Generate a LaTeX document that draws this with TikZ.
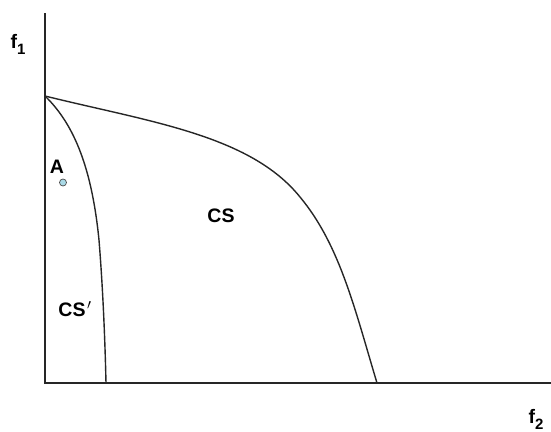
\documentclass[tikz,border=0pt]{standalone}
\usepackage{fontspec}
\setmainfont{Liberation Sans}
\definecolor{ptblue}{HTML}{A9D9E6}
\begin{document}
\begin{tikzpicture}[x=1pt,y=-1pt,
  lbl/.style={font=\bfseries\fontsize{19.5}{22}\selectfont, inner sep=0pt},
  curve/.style={line width=1.4pt, black!85},
  axis/.style={line width=1.4pt, black!85}]
\useasboundingbox (0,0) rectangle (551,431);
\coordinate (O) at (45,383);
\coordinate (ytop) at (45,13);
\coordinate (xend) at (551,383);
\coordinate (P) at (45,96);
\coordinate (Q) at (377,383);
\coordinate (R) at (106,383);
\draw[axis] (ytop) -- (O) -- (xend);
\draw[curve] (P) .. controls (150,122) and (250,135) .. (300,197)
  .. controls (340,245) and (355,310) .. (Q);
\draw[curve] (P) .. controls (75,125) and (92,170) .. (99,240)
  .. controls (103,290) and (105,340) .. (R);
\node[lbl, anchor=base west] (f1) at (10.5,48) {f\raisebox{-6pt}{\fontsize{15}{15}\selectfont 1}};
\node[lbl, anchor=base west] (f2) at (528.5,423) {f\raisebox{-6pt}{\fontsize{15}{15}\selectfont 2}};
\node[lbl] (A) at (57,166.5) {A};
\node[circle, draw=black!70, fill=ptblue, line width=0.7pt, minimum size=7pt, inner sep=0pt] (a) at (63,182.5) {};
\node[lbl] (cs) at (221,216) {CS};
\node[lbl] (csp) at (75,309) {CS\kern1.5pt$'$};
\end{tikzpicture}
\end{document}
